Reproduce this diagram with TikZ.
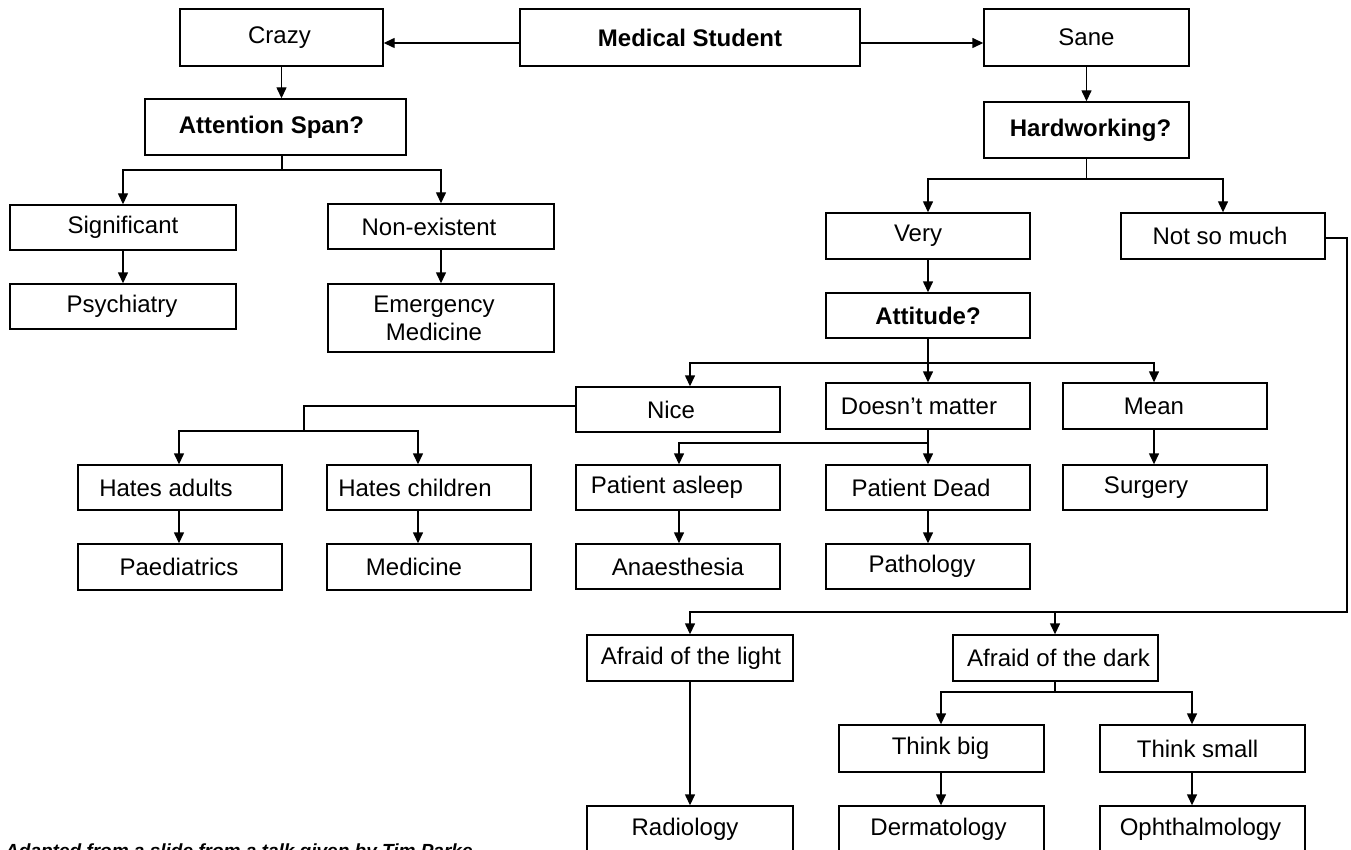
\documentclass[tikz,border=0pt]{standalone}
\usepackage{fontspec}
\setmainfont{Liberation Sans}
\usetikzlibrary{arrows.meta}
\newcommand\bx[8]{%
  \node[box, minimum width={(#4-#2)*1pt}, minimum height={(#5-#3)*1pt}] (#1) at ({(#2+#4)/2},{(#3+#5)/2}) {};
  \node[#7] (#1-t) at ([xshift=#6pt]#1.center) {#8};}
\begin{document}
\begin{tikzpicture}[x=1pt,y=-1pt,
  box/.style={draw, line width=1.4pt, inner sep=0pt, rectangle},
  txt/.style={font=\fontsize{24}{28}\selectfont, align=center, inner sep=0pt},
  btxt/.style={font=\fontsize{24}{28}\selectfont\bfseries, align=center, inner sep=0pt},
  arr/.style={line width=1.4pt, -{Triangle[length=11pt,width=10pt]}},
  ln/.style={line width=1.4pt}]
\path[use as bounding box] (0,0) rectangle (1351,850);
\clip (0,0) rectangle (1351,850);
% boxes
\bx{ms}{520}{9}{860}{66}{0}{btxt}{Medical Student}
\bx{crazy}{180}{9}{383}{66}{-2}{txt}{Crazy}
\bx{sane}{984}{9}{1189}{66}{0}{txt}{Sane}
\bx{attn}{145}{99}{406}{155}{-4}{btxt}{Attention Span?}
\bx{hard}{984}{102}{1189}{158}{4}{btxt}{Hardworking?}
\bx{sig}{10}{205}{236}{250}{0}{txt}{Significant}
\bx{nonex}{328}{204}{554}{249}{-12}{txt}{Non-existent}
\bx{psych}{10}{284}{236}{329}{-1}{txt}{Psychiatry}
\bx{emerg}{328}{284}{554}{352}{-7}{txt}{Emergency\\Medicine}
\bx{very}{826}{213}{1030}{259}{-10}{txt}{Very}
\bx{notso}{1121}{213}{1325}{259}{-3}{txt}{Not so much}
\bx{att}{826}{293}{1030}{338}{0}{btxt}{Attitude?}
\bx{nice}{576}{387}{780}{432}{-7}{txt}{Nice}
\bx{dm}{826}{383}{1030}{429}{-9}{txt}{Doesn’t matter}
\bx{mean}{1063}{383}{1267}{429}{-11}{txt}{Mean}
\bx{hadults}{78}{465}{282}{510}{-14}{txt}{Hates adults}
\bx{hchild}{327}{465}{531}{510}{-14}{txt}{Hates children}
\bx{pasleep}{576}{465}{780}{510}{-11}{txt}{Patient asleep}
\bx{pdead}{826}{465}{1030}{510}{-7}{txt}{Patient Dead}
\bx{surg}{1063}{465}{1267}{510}{-19}{txt}{Surgery}
\bx{paed}{78}{544}{282}{590}{-1}{txt}{Paediatrics}
\bx{med}{327}{544}{531}{590}{-15}{txt}{Medicine}
\bx{anaes}{576}{544}{780}{589}{0}{txt}{Anaesthesia}
\bx{path}{826}{544}{1030}{589}{-6}{txt}{Pathology}
\bx{light}{587}{635}{793}{681}{1}{txt}{Afraid of the light}
\bx{dark}{953}{635}{1158}{681}{3}{txt}{Afraid of the dark}
\bx{tbig}{839}{725}{1044}{772}{-1}{txt}{Think big}
\bx{tsmall}{1100}{725}{1305}{772}{-5}{txt}{Think small}
\bx{radio}{587}{806}{793}{852}{-5}{txt}{Radiology}
\bx{derm}{839}{806}{1044}{852}{-3}{txt}{Dermatology}
\bx{ophth}{1100}{806}{1305}{852}{-2}{txt}{Ophthalmology}
% connectors
\draw[arr] ([yshift=-5.5pt]ms.west) -- ([yshift=-5.5pt]crazy.east);
\draw[arr] ([yshift=-5.5pt]ms.east) -- ([yshift=-5.5pt]sane.west);
\draw[arr] (crazy.south) -- (crazy.south |- attn.north);
\draw[arr] (sane.south) -- (hard.north);
\coordinate (a1) at (282,170);
\draw[ln] (attn.south -| a1) -- (a1);
\draw[arr] (a1) -| (sig.north);
\draw[arr] (a1) -| (nonex.north);
\draw[arr] (sig.south) -- (psych.north);
\draw[arr] (nonex.south) -- (emerg.north);
\coordinate (h1) at (1087,179);
\draw[ln] (hard.south) -- (hard.south |- h1);
\draw[arr] (h1) -| (very.north);
\draw[arr] (h1) -| (notso.north);
\draw[arr] (very.south) -- (att.north);
\coordinate (t1) at (928,363);
\coordinate (tn) at (690,363);
\coordinate (tm) at (1154,363);
\draw[ln] (att.south) -- (t1);
\draw[arr] (t1) -- (tn) -- (tn |- nice.north);
\draw[arr] (t1) -- (dm.north);
\draw[arr] (t1) -- (tm) -- (tm |- mean.north);
\draw[arr] (mean.south -| tm) -- (surg.north -| tm);
\coordinate (n1) at (304,406);
\coordinate (n2) at (304,431);
\coordinate (na) at (179,431);
\coordinate (nc) at (418,431);
\draw[ln] (nice.west |- n1) -- (n1) -- (n2);
\draw[arr] (n2) -- (na) -- (na |- hadults.north);
\draw[arr] (n2) -- (nc) -- (nc |- hchild.north);
\draw[arr] (hadults.south -| na) -- (paed.north -| na);
\draw[arr] (hchild.south -| nc) -- (med.north -| nc);
\coordinate (d1) at (928,443);
\coordinate (da) at (679,443);
\draw[ln] (dm.south) -- (d1);
\draw[arr] (d1) -- (da) -- (da |- pasleep.north);
\draw[arr] (d1) -- (pdead.north);
\draw[arr] (pasleep.south -| da) -- (anaes.north -| da);
\draw[arr] (pdead.south) -- (path.north);
\coordinate (s1) at (1347,238);
\coordinate (s2) at (1347,612);
\coordinate (sl) at (690,612);
\coordinate (sd) at (1055,612);
\draw[arr] (notso.east |- s1) -- (s1) -- (s2) -- (sl) -- (light.north);
\draw[arr] (sd) -- (sd |- dark.north);
\draw[arr] (light.south) -- (radio.north);
\coordinate (k1) at (1055,692);
\coordinate (ka) at (941,692);
\coordinate (kb) at (1192,692);
\draw[ln] (dark.south -| k1) -- (k1);
\draw[arr] (k1) -- (ka) -- (ka |- tbig.north);
\draw[arr] (k1) -- (kb) -- (kb |- tsmall.north);
\draw[arr] (tbig.south -| ka) -- (derm.north -| ka);
\draw[arr] (tsmall.south -| kb) -- (ophth.north -| kb);
% caption
\node[anchor=base west, font=\fontsize{19}{22}\selectfont\bfseries\itshape, inner sep=0pt] (cap) at (5,857) {Adapted from a slide from a talk given by Tim Parke};
\end{tikzpicture}
\end{document}
